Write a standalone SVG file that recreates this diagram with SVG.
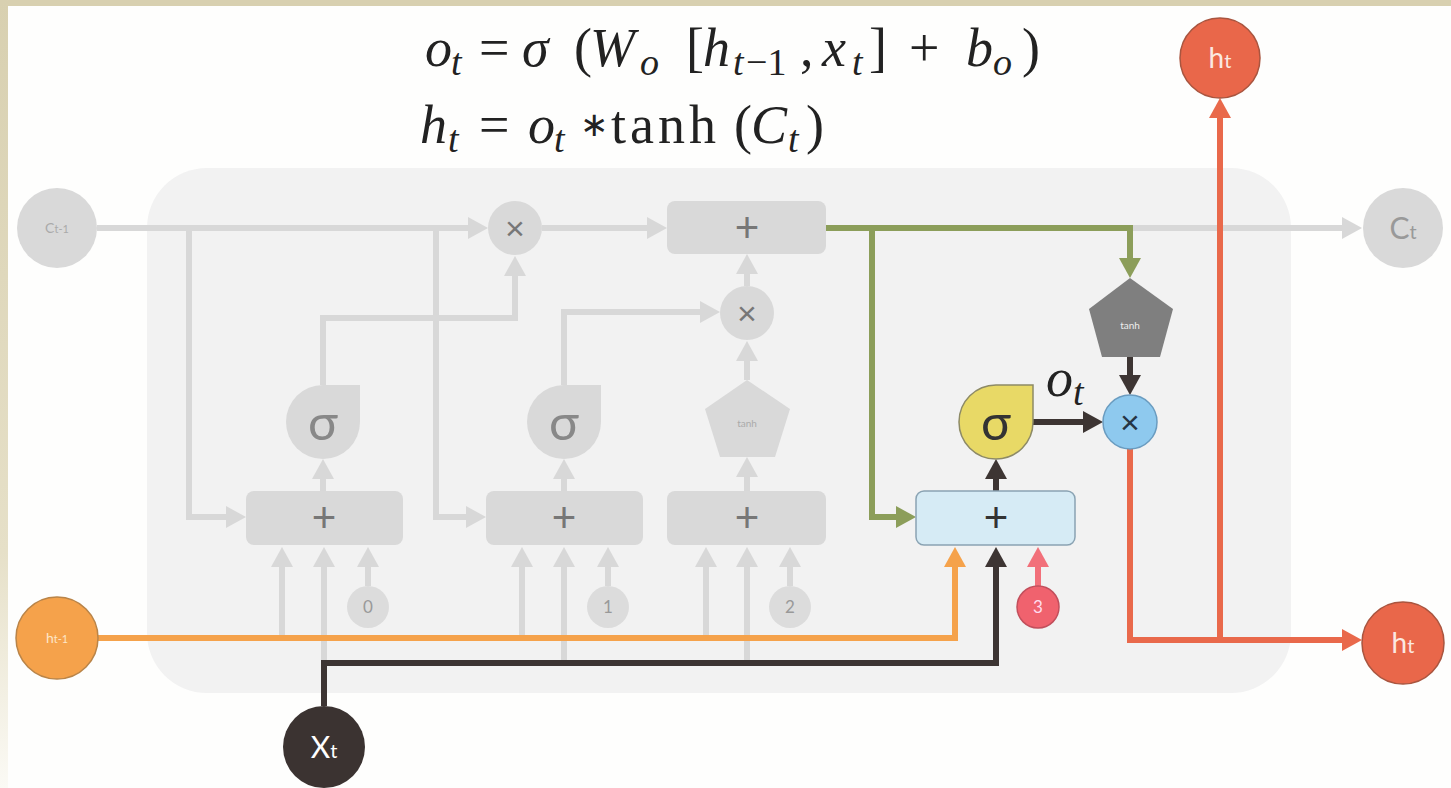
<svg xmlns="http://www.w3.org/2000/svg" width="1451" height="788" viewBox="0 0 1451 788">
<defs>
<linearGradient id="lband" x1="0" y1="0" x2="0" y2="1">
<stop offset="0" stop-color="#d8d0b0"/><stop offset="0.7" stop-color="#e6e0c8"/><stop offset="1" stop-color="#fbfaf5"/>
</linearGradient>
<marker id="ag" markerUnits="userSpaceOnUse" markerWidth="20" markerHeight="22" viewBox="0 0 20 22" refX="1" refY="11" orient="auto"><path d="M0,0 L20,11 L0,22 Z" fill="#d8d8d8"/></marker>
<marker id="agr" markerUnits="userSpaceOnUse" markerWidth="20" markerHeight="22" viewBox="0 0 20 22" refX="1" refY="11" orient="auto"><path d="M0,0 L20,11 L0,22 Z" fill="#8c9e5a"/></marker>
<marker id="aor" markerUnits="userSpaceOnUse" markerWidth="20" markerHeight="22" viewBox="0 0 20 22" refX="1" refY="11" orient="auto"><path d="M0,0 L20,11 L0,22 Z" fill="#f5a24b"/></marker>
<marker id="adk" markerUnits="userSpaceOnUse" markerWidth="20" markerHeight="22" viewBox="0 0 20 22" refX="1" refY="11" orient="auto"><path d="M0,0 L20,11 L0,22 Z" fill="#3d3533"/></marker>
<marker id="ard" markerUnits="userSpaceOnUse" markerWidth="20" markerHeight="22" viewBox="0 0 20 22" refX="1" refY="11" orient="auto"><path d="M0,0 L20,11 L0,22 Z" fill="#e9694b"/></marker>
<marker id="apk" markerUnits="userSpaceOnUse" markerWidth="20" markerHeight="22" viewBox="0 0 20 22" refX="1" refY="11" orient="auto"><path d="M0,0 L20,11 L0,22 Z" fill="#f2707a"/></marker>
</defs>
<style>
.c{fill:none;stroke-width:6;stroke-linejoin:miter}
.g{stroke:#d8d8d8;marker-end:url(#ag)}
.gr{stroke:#8c9e5a}
.or{stroke:#f5a24b}
.dk{stroke:#3d3533}
.rd{stroke:#e9694b}
.pk{stroke:#f2707a}
.gray{fill:#d9d9d9}
.box{fill:#d9d9d9}
.plus{font-family:"Liberation Sans",Arial,sans-serif;font-size:42px;fill:#777;text-anchor:middle}
.times{font-family:"Liberation Sans",Arial,sans-serif;font-size:34px;fill:#777;text-anchor:middle}
.sig{font-family:Lato,"DejaVu Sans",sans-serif;font-size:50px;text-anchor:middle}
.num{font-family:Lato,"Liberation Sans",sans-serif;font-size:17px;text-anchor:middle}
.lbl{font-family:Lato,"Liberation Sans",sans-serif;text-anchor:middle}
.math{font-family:"Liberation Serif","Times New Roman",serif;font-size:54px;fill:#222}
.it{font-style:italic}
.sub{font-size:38px}
</style>
<rect x="0" y="0" width="1451" height="788" fill="#fefefd"/>
<rect x="0" y="0" width="1451" height="6" fill="#d8d0b0"/>
<rect x="0" y="0" width="8" height="788" fill="url(#lband)"/>
<rect x="147" y="168" width="1144" height="525" rx="60" ry="60" fill="#f2f2f2"/>

<g id="formulas">
<text class="math" y="66"><tspan class="it" x="425">o</tspan><tspan class="it sub" x="451" y="75">t</tspan><tspan x="479" y="66">=</tspan><tspan class="it" x="522">σ</tspan><tspan x="574">(</tspan><tspan class="it" x="590">W</tspan><tspan class="it sub" x="640" y="75">o</tspan><tspan x="686" y="66">[</tspan><tspan class="it" x="703">h</tspan><tspan class="it sub" x="733" y="75">t</tspan><tspan class="sub" x="746">−1</tspan><tspan x="800" y="66">,</tspan><tspan class="it" x="822">x</tspan><tspan class="it sub" x="852" y="75">t</tspan><tspan x="869" y="66">]</tspan><tspan x="909">+</tspan><tspan class="it" x="966">b</tspan><tspan class="it sub" x="993" y="75">o</tspan><tspan x="1022" y="66">)</tspan></text>
<text class="math" y="143"><tspan class="it" x="420">h</tspan><tspan class="it sub" x="448" y="152">t</tspan><tspan x="479" y="143">=</tspan><tspan class="it" x="528">o</tspan><tspan class="it sub" x="554" y="152">t</tspan><tspan x="580" y="136" font-size="34">∗</tspan><tspan x="611" y="143" letter-spacing="4">tanh</tspan><tspan x="734">(</tspan><tspan class="it" x="751">C</tspan><tspan class="it sub" x="788" y="152">t</tspan><tspan x="806" y="143">)</tspan></text>
</g>

<g id="connectors">
<path class="c g" d="M97,228 H469"/>
<path class="c g" d="M542,228 H648"/>
<path class="c g" d="M826,228 H1343"/>
<path class="c g" d="M189,228 V517 H227"/>
<path class="c g" d="M436,228 V517 H467"/>
<path class="c g" d="M323,385 V318 H515 V275"/>
<path class="c g" d="M564,385 V312 H701"/>
<path class="c g" d="M747,380 V360"/>
<path class="c g" d="M747,286 V273"/>
<path class="c g" d="M323,491 V478"/>
<path class="c g" d="M564,491 V478"/>
<path class="c g" d="M747,491 V476"/>
<path class="c g" d="M282,638 V566"/>
<path class="c g" d="M324,663 V566"/>
<path class="c g" d="M368,586 V566"/>
<path class="c g" d="M522,638 V566"/>
<path class="c g" d="M564,663 V566"/>
<path class="c g" d="M608,586 V566"/>
<path class="c g" d="M706,638 V566"/>
<path class="c g" d="M747,663 V566"/>
<path class="c g" d="M790,586 V566"/>
<path class="c gr" marker-end="url(#agr)" d="M826,228 H1130 V259"/>
<path class="c gr" marker-end="url(#agr)" d="M872,228 V517 H897"/>
<path class="c or" marker-end="url(#aor)" d="M98,638 H955 V566"/>
<path class="c dk" marker-end="url(#adk)" d="M324,706 V663 H996 V566"/>
<path class="c pk" marker-end="url(#apk)" d="M1038,586 V566"/>
<path class="c dk" marker-end="url(#adk)" d="M996,491 V478"/>
<path class="c dk" marker-end="url(#adk)" d="M1033,422 H1084"/>
<path class="c dk" marker-end="url(#adk)" d="M1130,357 V376"/>
<path class="c rd" marker-end="url(#ard)" d="M1130,449 V640 H1343"/>
<path class="c rd" marker-end="url(#ard)" d="M1220,640 V117"/>
</g>

<g id="c_prev"><circle cx="57" cy="228" r="40" class="gray"/><text class="lbl" x="57" y="233" font-size="14" fill="#aaa" font-family="Liberation Serif,serif">C<tspan font-size="11">t-1</tspan></text></g>
<g id="c_t"><circle cx="1403" cy="228" r="40" class="gray"/><text class="lbl" x="1403" y="239" font-size="30" fill="#999">C<tspan font-size="20">t</tspan></text></g>
<g id="h_prev"><circle cx="57" cy="638" r="41" fill="#f5a24b" stroke="#b98448" stroke-width="1.5"/><text class="lbl" x="57" y="643" font-size="14" fill="#fde6c8">h<tspan font-size="11">t-1</tspan></text></g>
<g id="x_t"><circle cx="324" cy="747" r="41" fill="#3b3331"/><text class="lbl" x="324" y="758" font-size="30" fill="#fff">X<tspan font-size="20">t</tspan></text></g>
<g id="h_t_top"><circle cx="1220" cy="58" r="40" fill="#e9674a" stroke="#a9553f" stroke-width="1.5"/><text class="lbl" x="1220" y="68" font-size="28" fill="#fbe9e2">h<tspan font-size="20">t</tspan></text></g>
<g id="h_t_out"><circle cx="1403" cy="643" r="41" fill="#e9674a" stroke="#a9553f" stroke-width="1.5"/><text class="lbl" x="1403" y="653" font-size="28" fill="#fbe9e2">h<tspan font-size="20">t</tspan></text></g>

<g id="mul_forget"><circle cx="515" cy="228" r="27" class="gray"/><text class="times" x="515" y="240">×</text></g>
<g id="add_cell"><rect x="667" y="201" width="159" height="53" rx="8" class="box"/><text class="plus" x="747" y="242">+</text></g>
<g id="mul_input"><circle cx="747" cy="313" r="27" class="gray"/><text class="times" x="747" y="325">×</text></g>

<g id="sigma_f"><path d="M323,385 H360 V422 A37,37 0 1 1 323,385 Z" class="gray"/><text class="sig" x="323" y="440" fill="#888">σ</text></g>
<g id="sigma_i"><path d="M564,385 H601 V422 A37,37 0 1 1 564,385 Z" class="gray"/><text class="sig" x="564" y="440" fill="#888">σ</text></g>
<g id="tanh_c"><polygon points="747,380 790,409 775,457 720,457 705,409" class="gray"/><text class="lbl" x="747" y="427" font-size="10" fill="#aaa">tanh</text></g>

<g id="sum0"><rect x="246" y="491" width="157" height="54" rx="8" class="box"/><text class="plus" x="324" y="532">+</text></g>
<g id="sum1"><rect x="486" y="491" width="157" height="54" rx="8" class="box"/><text class="plus" x="564" y="532">+</text></g>
<g id="sum2"><rect x="667" y="491" width="159" height="54" rx="8" class="box"/><text class="plus" x="747" y="532">+</text></g>

<g id="bias0"><circle cx="368" cy="607" r="21" fill="#dcdcdc"/><text class="num" x="368" y="613" fill="#999">0</text></g>
<g id="bias1"><circle cx="608" cy="607" r="21" fill="#dcdcdc"/><text class="num" x="608" y="613" fill="#999">1</text></g>
<g id="bias2"><circle cx="790" cy="607" r="21" fill="#dcdcdc"/><text class="num" x="790" y="613" fill="#999">2</text></g>
<g id="bias3"><circle cx="1038" cy="607" r="21" fill="#f0626e" stroke="#c24f5c" stroke-width="1.5"/><text class="num" x="1038" y="613" fill="#fde">3</text></g>

<g id="sum_out"><rect x="916" y="491" width="159" height="54" rx="8" fill="#d6ebf5" stroke="#8aa3b3" stroke-width="1.5"/><text class="plus" x="996" y="532" style="fill:#333">+</text></g>
<g id="sigma_o"><path d="M996,385 H1033 V422 A37,37 0 1 1 996,385 Z" fill="#e8d966" stroke="#8d8a66" stroke-width="1.5"/><text class="sig" x="996" y="440" fill="#333">σ</text></g>
<g id="o_t_label"><text class="math it" x="1046" y="396" font-size="44">o<tspan class="sub" font-size="30" y="405">t</tspan></text></g>
<g id="tanh_out"><polygon points="1130,278 1173,309 1160,357 1102,357 1089,309" fill="#7f7f7f"/><text class="lbl" x="1130" y="329" font-size="10" fill="#eee">tanh</text></g>
<g id="mul_out"><circle cx="1130" cy="422" r="27" fill="#8ec9ee" stroke="#6a9cc0" stroke-width="1.5"/><text class="times" x="1130" y="434" style="fill:#263544">×</text></g>
</svg>
